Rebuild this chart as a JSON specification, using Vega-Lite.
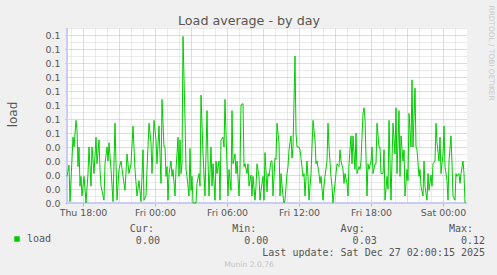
{
  "$schema": "https://vega.github.io/schema/vega-lite/v6.json",
  "width": 400,
  "height": 175,
  "autosize": {"type": "none"},
  "padding": {"left": 67, "top": 28, "right": 30, "bottom": 72},
  "background": "#f0f0f0",
  "config": {
    "view": {"fill": "#ffffff", "stroke": null},
    "font": "DejaVu Sans"
  },
  "data": {
    "values": [
      {"t": "2025-12-25T16:40", "v": 0.019},
      {"t": "2025-12-25T16:50", "v": 0.027},
      {"t": "2025-12-25T16:55", "v": 0.001},
      {"t": "2025-12-25T17:10", "v": 0.047},
      {"t": "2025-12-25T17:15", "v": 0.040},
      {"t": "2025-12-25T17:25", "v": 0.059},
      {"t": "2025-12-25T17:30", "v": 0.052},
      {"t": "2025-12-25T17:35", "v": 0.026},
      {"t": "2025-12-25T17:40", "v": 0.040},
      {"t": "2025-12-25T17:45", "v": 0.012},
      {"t": "2025-12-25T17:50", "v": 0.019},
      {"t": "2025-12-25T17:55", "v": 0.005},
      {"t": "2025-12-25T18:05", "v": 0.019},
      {"t": "2025-12-25T18:10", "v": 0.010},
      {"t": "2025-12-25T18:15", "v": 0.000},
      {"t": "2025-12-25T18:25", "v": 0.021},
      {"t": "2025-12-25T18:30", "v": 0.040},
      {"t": "2025-12-25T18:40", "v": 0.012},
      {"t": "2025-12-25T18:45", "v": 0.040},
      {"t": "2025-12-25T18:55", "v": 0.021},
      {"t": "2025-12-25T19:05", "v": 0.047},
      {"t": "2025-12-25T19:10", "v": 0.028},
      {"t": "2025-12-25T19:20", "v": 0.045},
      {"t": "2025-12-25T19:25", "v": 0.024},
      {"t": "2025-12-25T19:30", "v": 0.012},
      {"t": "2025-12-25T19:45", "v": 0.002},
      {"t": "2025-12-25T19:50", "v": 0.028},
      {"t": "2025-12-25T20:00", "v": 0.040},
      {"t": "2025-12-25T20:05", "v": 0.030},
      {"t": "2025-12-25T20:10", "v": 0.043},
      {"t": "2025-12-25T20:20", "v": 0.024},
      {"t": "2025-12-25T20:30", "v": 0.001},
      {"t": "2025-12-25T20:40", "v": 0.057},
      {"t": "2025-12-25T20:45", "v": 0.028},
      {"t": "2025-12-25T20:50", "v": 0.002},
      {"t": "2025-12-25T21:00", "v": 0.024},
      {"t": "2025-12-25T21:10", "v": 0.030},
      {"t": "2025-12-25T21:20", "v": 0.019},
      {"t": "2025-12-25T21:30", "v": 0.009},
      {"t": "2025-12-25T21:40", "v": 0.035},
      {"t": "2025-12-25T21:50", "v": 0.021},
      {"t": "2025-12-25T22:00", "v": 0.028},
      {"t": "2025-12-25T22:10", "v": 0.055},
      {"t": "2025-12-25T22:20", "v": 0.024},
      {"t": "2025-12-25T22:30", "v": 0.005},
      {"t": "2025-12-25T22:40", "v": 0.016},
      {"t": "2025-12-25T22:50", "v": 0.001},
      {"t": "2025-12-25T23:00", "v": 0.038},
      {"t": "2025-12-25T23:05", "v": 0.002},
      {"t": "2025-12-25T23:15", "v": 0.005},
      {"t": "2025-12-25T23:20", "v": 0.024},
      {"t": "2025-12-25T23:30", "v": 0.057},
      {"t": "2025-12-25T23:40", "v": 0.043},
      {"t": "2025-12-25T23:45", "v": 0.021},
      {"t": "2025-12-25T23:55", "v": 0.059},
      {"t": "2025-12-26T00:05", "v": 0.045},
      {"t": "2025-12-26T00:10", "v": 0.028},
      {"t": "2025-12-26T00:20", "v": 0.055},
      {"t": "2025-12-26T00:30", "v": 0.014},
      {"t": "2025-12-26T00:35", "v": 0.074},
      {"t": "2025-12-26T00:45", "v": 0.040},
      {"t": "2025-12-26T00:50", "v": 0.040},
      {"t": "2025-12-26T00:55", "v": 0.019},
      {"t": "2025-12-26T01:00", "v": 0.026},
      {"t": "2025-12-26T01:05", "v": 0.002},
      {"t": "2025-12-26T01:10", "v": 0.021},
      {"t": "2025-12-26T01:20", "v": 0.030},
      {"t": "2025-12-26T01:25", "v": 0.019},
      {"t": "2025-12-26T01:30", "v": 0.024},
      {"t": "2025-12-26T01:40", "v": 0.005},
      {"t": "2025-12-26T01:45", "v": 0.024},
      {"t": "2025-12-26T01:50", "v": 0.035},
      {"t": "2025-12-26T01:55", "v": 0.047},
      {"t": "2025-12-26T02:00", "v": 0.019},
      {"t": "2025-12-26T02:05", "v": 0.045},
      {"t": "2025-12-26T02:10", "v": 0.021},
      {"t": "2025-12-26T02:15", "v": 0.028},
      {"t": "2025-12-26T02:20", "v": 0.119},
      {"t": "2025-12-26T02:30", "v": 0.060},
      {"t": "2025-12-26T02:35", "v": 0.024},
      {"t": "2025-12-26T02:40", "v": 0.019},
      {"t": "2025-12-26T02:50", "v": 0.005},
      {"t": "2025-12-26T02:55", "v": 0.039},
      {"t": "2025-12-26T03:00", "v": 0.009},
      {"t": "2025-12-26T03:05", "v": 0.019},
      {"t": "2025-12-26T03:10", "v": 0.000},
      {"t": "2025-12-26T03:20", "v": 0.000},
      {"t": "2025-12-26T03:25", "v": 0.000},
      {"t": "2025-12-26T03:30", "v": 0.014},
      {"t": "2025-12-26T03:40", "v": 0.021},
      {"t": "2025-12-26T03:45", "v": 0.012},
      {"t": "2025-12-26T03:50", "v": 0.077},
      {"t": "2025-12-26T04:00", "v": 0.035},
      {"t": "2025-12-26T04:05", "v": 0.021},
      {"t": "2025-12-26T04:10", "v": 0.005},
      {"t": "2025-12-26T04:20", "v": 0.066},
      {"t": "2025-12-26T04:25", "v": 0.030},
      {"t": "2025-12-26T04:30", "v": 0.005},
      {"t": "2025-12-26T04:40", "v": 0.040},
      {"t": "2025-12-26T04:45", "v": 0.012},
      {"t": "2025-12-26T04:50", "v": 0.028},
      {"t": "2025-12-26T05:00", "v": 0.002},
      {"t": "2025-12-26T05:05", "v": 0.030},
      {"t": "2025-12-26T05:10", "v": 0.021},
      {"t": "2025-12-26T05:20", "v": 0.030},
      {"t": "2025-12-26T05:25", "v": 0.002},
      {"t": "2025-12-26T05:30", "v": 0.045},
      {"t": "2025-12-26T05:40", "v": 0.047},
      {"t": "2025-12-26T05:45", "v": 0.040},
      {"t": "2025-12-26T05:50", "v": 0.074},
      {"t": "2025-12-26T06:00", "v": 0.026},
      {"t": "2025-12-26T06:05", "v": 0.005},
      {"t": "2025-12-26T06:10", "v": 0.024},
      {"t": "2025-12-26T06:20", "v": 0.009},
      {"t": "2025-12-26T06:25", "v": 0.066},
      {"t": "2025-12-26T06:30", "v": 0.028},
      {"t": "2025-12-26T06:40", "v": 0.035},
      {"t": "2025-12-26T06:45", "v": 0.021},
      {"t": "2025-12-26T06:50", "v": 0.030},
      {"t": "2025-12-26T07:00", "v": 0.005},
      {"t": "2025-12-26T07:05", "v": 0.024},
      {"t": "2025-12-26T07:10", "v": 0.070},
      {"t": "2025-12-26T07:20", "v": 0.071},
      {"t": "2025-12-26T07:25", "v": 0.026},
      {"t": "2025-12-26T07:30", "v": 0.028},
      {"t": "2025-12-26T07:40", "v": 0.021},
      {"t": "2025-12-26T07:45", "v": 0.028},
      {"t": "2025-12-26T07:50", "v": 0.012},
      {"t": "2025-12-26T08:00", "v": 0.020},
      {"t": "2025-12-26T08:05", "v": 0.005},
      {"t": "2025-12-26T08:10", "v": 0.019},
      {"t": "2025-12-26T08:20", "v": 0.002},
      {"t": "2025-12-26T08:25", "v": 0.012},
      {"t": "2025-12-26T08:30", "v": 0.028},
      {"t": "2025-12-26T08:40", "v": 0.019},
      {"t": "2025-12-26T08:45", "v": 0.002},
      {"t": "2025-12-26T08:50", "v": 0.009},
      {"t": "2025-12-26T09:00", "v": 0.019},
      {"t": "2025-12-26T09:05", "v": 0.002},
      {"t": "2025-12-26T09:10", "v": 0.036},
      {"t": "2025-12-26T09:20", "v": 0.008},
      {"t": "2025-12-26T09:25", "v": 0.021},
      {"t": "2025-12-26T09:30", "v": 0.019},
      {"t": "2025-12-26T09:40", "v": 0.030},
      {"t": "2025-12-26T09:45", "v": 0.030},
      {"t": "2025-12-26T09:50", "v": 0.005},
      {"t": "2025-12-26T10:00", "v": 0.032},
      {"t": "2025-12-26T10:05", "v": 0.031},
      {"t": "2025-12-26T10:10", "v": 0.057},
      {"t": "2025-12-26T10:20", "v": 0.043},
      {"t": "2025-12-26T10:25", "v": 0.005},
      {"t": "2025-12-26T10:30", "v": 0.021},
      {"t": "2025-12-26T10:40", "v": 0.005},
      {"t": "2025-12-26T10:45", "v": 0.000},
      {"t": "2025-12-26T10:50", "v": 0.002},
      {"t": "2025-12-26T11:00", "v": 0.021},
      {"t": "2025-12-26T11:05", "v": 0.026},
      {"t": "2025-12-26T11:10", "v": 0.038},
      {"t": "2025-12-26T11:20", "v": 0.048},
      {"t": "2025-12-26T11:25", "v": 0.032},
      {"t": "2025-12-26T11:30", "v": 0.040},
      {"t": "2025-12-26T11:40", "v": 0.105},
      {"t": "2025-12-26T11:45", "v": 0.050},
      {"t": "2025-12-26T11:50", "v": 0.040},
      {"t": "2025-12-26T12:00", "v": 0.040},
      {"t": "2025-12-26T12:05", "v": 0.038},
      {"t": "2025-12-26T12:10", "v": 0.032},
      {"t": "2025-12-26T12:20", "v": 0.019},
      {"t": "2025-12-26T12:25", "v": 0.021},
      {"t": "2025-12-26T12:30", "v": 0.005},
      {"t": "2025-12-26T12:40", "v": 0.030},
      {"t": "2025-12-26T12:45", "v": 0.019},
      {"t": "2025-12-26T12:50", "v": 0.002},
      {"t": "2025-12-26T13:00", "v": 0.021},
      {"t": "2025-12-26T13:05", "v": 0.040},
      {"t": "2025-12-26T13:10", "v": 0.059},
      {"t": "2025-12-26T13:20", "v": 0.045},
      {"t": "2025-12-26T13:25", "v": 0.028},
      {"t": "2025-12-26T13:30", "v": 0.030},
      {"t": "2025-12-26T13:40", "v": 0.021},
      {"t": "2025-12-26T13:45", "v": 0.014},
      {"t": "2025-12-26T13:50", "v": 0.019},
      {"t": "2025-12-26T14:00", "v": 0.002},
      {"t": "2025-12-26T14:05", "v": 0.012},
      {"t": "2025-12-26T14:10", "v": 0.019},
      {"t": "2025-12-26T14:20", "v": 0.030},
      {"t": "2025-12-26T14:25", "v": 0.057},
      {"t": "2025-12-26T14:30", "v": 0.040},
      {"t": "2025-12-26T14:40", "v": 0.019},
      {"t": "2025-12-26T14:45", "v": 0.012},
      {"t": "2025-12-26T14:50", "v": 0.000},
      {"t": "2025-12-26T15:00", "v": 0.014},
      {"t": "2025-12-26T15:05", "v": 0.021},
      {"t": "2025-12-26T15:10", "v": 0.028},
      {"t": "2025-12-26T15:20", "v": 0.026},
      {"t": "2025-12-26T15:25", "v": 0.038},
      {"t": "2025-12-26T15:30", "v": 0.030},
      {"t": "2025-12-26T15:40", "v": 0.024},
      {"t": "2025-12-26T15:45", "v": 0.014},
      {"t": "2025-12-26T15:50", "v": 0.021},
      {"t": "2025-12-26T16:00", "v": 0.014},
      {"t": "2025-12-26T16:05", "v": 0.005},
      {"t": "2025-12-26T16:10", "v": 0.028},
      {"t": "2025-12-26T16:20", "v": 0.048},
      {"t": "2025-12-26T16:25", "v": 0.028},
      {"t": "2025-12-26T16:30", "v": 0.048},
      {"t": "2025-12-26T16:40", "v": 0.024},
      {"t": "2025-12-26T16:45", "v": 0.050},
      {"t": "2025-12-26T16:50", "v": 0.021},
      {"t": "2025-12-26T17:00", "v": 0.026},
      {"t": "2025-12-26T17:05", "v": 0.024},
      {"t": "2025-12-26T17:10", "v": 0.030},
      {"t": "2025-12-26T17:20", "v": 0.064},
      {"t": "2025-12-26T17:25", "v": 0.068},
      {"t": "2025-12-26T17:30", "v": 0.060},
      {"t": "2025-12-26T17:40", "v": 0.005},
      {"t": "2025-12-26T17:45", "v": 0.028},
      {"t": "2025-12-26T17:50", "v": 0.024},
      {"t": "2025-12-26T18:00", "v": 0.030},
      {"t": "2025-12-26T18:05", "v": 0.040},
      {"t": "2025-12-26T18:10", "v": 0.021},
      {"t": "2025-12-26T18:20", "v": 0.028},
      {"t": "2025-12-26T18:25", "v": 0.028},
      {"t": "2025-12-26T18:30", "v": 0.057},
      {"t": "2025-12-26T18:40", "v": 0.040},
      {"t": "2025-12-26T18:45", "v": 0.040},
      {"t": "2025-12-26T18:50", "v": 0.021},
      {"t": "2025-12-26T19:00", "v": 0.021},
      {"t": "2025-12-26T19:05", "v": 0.038},
      {"t": "2025-12-26T19:10", "v": 0.002},
      {"t": "2025-12-26T19:20", "v": 0.019},
      {"t": "2025-12-26T19:25", "v": 0.010},
      {"t": "2025-12-26T19:30", "v": 0.059},
      {"t": "2025-12-26T19:40", "v": 0.002},
      {"t": "2025-12-26T19:45", "v": 0.030},
      {"t": "2025-12-26T19:50", "v": 0.057},
      {"t": "2025-12-26T20:00", "v": 0.035},
      {"t": "2025-12-26T20:05", "v": 0.068},
      {"t": "2025-12-26T20:10", "v": 0.021},
      {"t": "2025-12-26T20:20", "v": 0.066},
      {"t": "2025-12-26T20:25", "v": 0.019},
      {"t": "2025-12-26T20:30", "v": 0.048},
      {"t": "2025-12-26T20:40", "v": 0.030},
      {"t": "2025-12-26T20:45", "v": 0.038},
      {"t": "2025-12-26T20:50", "v": 0.005},
      {"t": "2025-12-26T21:00", "v": 0.024},
      {"t": "2025-12-26T21:05", "v": 0.016},
      {"t": "2025-12-26T21:10", "v": 0.064},
      {"t": "2025-12-26T21:20", "v": 0.040},
      {"t": "2025-12-26T21:25", "v": 0.088},
      {"t": "2025-12-26T21:30", "v": 0.040},
      {"t": "2025-12-26T21:40", "v": 0.082},
      {"t": "2025-12-26T21:45", "v": 0.040},
      {"t": "2025-12-26T21:50", "v": 0.038},
      {"t": "2025-12-26T22:00", "v": 0.019},
      {"t": "2025-12-26T22:05", "v": 0.024},
      {"t": "2025-12-26T22:10", "v": 0.012},
      {"t": "2025-12-26T22:20", "v": 0.005},
      {"t": "2025-12-26T22:25", "v": 0.030},
      {"t": "2025-12-26T22:30", "v": 0.012},
      {"t": "2025-12-26T22:40", "v": 0.002},
      {"t": "2025-12-26T22:45", "v": 0.021},
      {"t": "2025-12-26T22:50", "v": 0.009},
      {"t": "2025-12-26T23:00", "v": 0.020},
      {"t": "2025-12-26T23:05", "v": 0.012},
      {"t": "2025-12-26T23:10", "v": 0.028},
      {"t": "2025-12-26T23:20", "v": 0.030},
      {"t": "2025-12-26T23:25", "v": 0.057},
      {"t": "2025-12-26T23:30", "v": 0.043},
      {"t": "2025-12-26T23:40", "v": 0.030},
      {"t": "2025-12-26T23:45", "v": 0.047},
      {"t": "2025-12-26T23:50", "v": 0.021},
      {"t": "2025-12-27T00:00", "v": 0.035},
      {"t": "2025-12-27T00:05", "v": 0.055},
      {"t": "2025-12-27T00:10", "v": 0.026},
      {"t": "2025-12-27T00:20", "v": 0.016},
      {"t": "2025-12-27T00:25", "v": 0.002},
      {"t": "2025-12-27T00:30", "v": 0.030},
      {"t": "2025-12-27T00:40", "v": 0.048},
      {"t": "2025-12-27T00:45", "v": 0.028},
      {"t": "2025-12-27T00:50", "v": 0.005},
      {"t": "2025-12-27T01:00", "v": 0.002},
      {"t": "2025-12-27T01:05", "v": 0.021},
      {"t": "2025-12-27T01:10", "v": 0.019},
      {"t": "2025-12-27T01:20", "v": 0.021},
      {"t": "2025-12-27T01:25", "v": 0.014},
      {"t": "2025-12-27T01:30", "v": 0.021},
      {"t": "2025-12-27T01:40", "v": 0.030},
      {"t": "2025-12-27T01:45", "v": 0.021},
      {"t": "2025-12-27T01:50", "v": 0.000}
    ]
  },
  "resolve": {"axis": {"x": "independent", "y": "independent"}},
  "layer": [
    {
      "mark": {"type": "rule", "color": "#c9cdf5", "strokeWidth": 1},
      "encoding": {
        "x": {
          "datum": {"year": 2025, "month": 12, "date": 25, "hours": 16, "minutes": 40},
          "type": "temporal",
          "axis": {
            "orient": "top",
            "values": [
              {"year": 2025, "month": 12, "date": 25, "hours": 21},
              {"year": 2025, "month": 12, "date": 26, "hours": 3},
              {"year": 2025, "month": 12, "date": 26, "hours": 9},
              {"year": 2025, "month": 12, "date": 26, "hours": 15},
              {"year": 2025, "month": 12, "date": 26, "hours": 21}
            ],
            "labels": false,
            "ticks": false,
            "domain": false,
            "grid": true,
            "gridColor": "#e6a6a6",
            "gridDash": [1, 1],
            "title": "Load average - by day",
            "titleFont": "DejaVu Sans",
            "titleFontSize": 12.7,
            "titleFontWeight": "normal",
            "titleColor": "#555555",
            "titleX": 181.5,
            "titleY": -4,
            "titleAlign": "center",
            "titleBaseline": "alphabetic"
          }
        },
        "x2": {"datum": {"year": 2025, "month": 12, "date": 27, "hours": 2, "minutes": 0}},
        "y": {
          "datum": 0,
          "type": "quantitative",
          "axis": {
            "orient": "left",
            "values": [0.005, 0.015, 0.025, 0.035, 0.045, 0.055, 0.065, 0.075, 0.085, 0.095, 0.105, 0.115, 0.125],
            "labels": false,
            "ticks": false,
            "domain": false,
            "grid": true,
            "gridColor": "#d6d6d6",
            "gridDash": [1, 1],
            "title": null
          }
        }
      }
    },
    {
      "mark": {"type": "rule", "color": "#c9cdf5", "strokeWidth": 1},
      "encoding": {
        "x": {
          "datum": {"year": 2025, "month": 12, "date": 25, "hours": 16, "minutes": 40},
          "type": "temporal",
          "axis": {
            "orient": "bottom",
            "values": [
              {"year": 2025, "month": 12, "date": 25, "hours": 17},
              {"year": 2025, "month": 12, "date": 25, "hours": 19},
              {"year": 2025, "month": 12, "date": 25, "hours": 20},
              {"year": 2025, "month": 12, "date": 25, "hours": 22},
              {"year": 2025, "month": 12, "date": 25, "hours": 23},
              {"year": 2025, "month": 12, "date": 26, "hours": 1},
              {"year": 2025, "month": 12, "date": 26, "hours": 2},
              {"year": 2025, "month": 12, "date": 26, "hours": 4},
              {"year": 2025, "month": 12, "date": 26, "hours": 5},
              {"year": 2025, "month": 12, "date": 26, "hours": 7},
              {"year": 2025, "month": 12, "date": 26, "hours": 8},
              {"year": 2025, "month": 12, "date": 26, "hours": 10},
              {"year": 2025, "month": 12, "date": 26, "hours": 11},
              {"year": 2025, "month": 12, "date": 26, "hours": 13},
              {"year": 2025, "month": 12, "date": 26, "hours": 14},
              {"year": 2025, "month": 12, "date": 26, "hours": 16},
              {"year": 2025, "month": 12, "date": 26, "hours": 17},
              {"year": 2025, "month": 12, "date": 26, "hours": 19},
              {"year": 2025, "month": 12, "date": 26, "hours": 20},
              {"year": 2025, "month": 12, "date": 26, "hours": 22},
              {"year": 2025, "month": 12, "date": 26, "hours": 23},
              {"year": 2025, "month": 12, "date": 27, "hours": 1}
            ],
            "labels": false,
            "ticks": false,
            "domain": false,
            "grid": true,
            "gridColor": "#d6d6d6",
            "gridDash": [1, 1],
            "title": "Munin 2.0.76",
            "titleFont": "DejaVu Sans",
            "titleFontSize": 7.6,
            "titleFontWeight": "normal",
            "titleColor": "#c4c4c4",
            "titleX": 181.5,
            "titleY": 63,
            "titleAlign": "center",
            "titleBaseline": "alphabetic"
          }
        },
        "y": {
          "datum": 0,
          "type": "quantitative",
          "axis": {
            "orient": "right",
            "labels": false,
            "ticks": false,
            "domain": false,
            "grid": false,
            "title": "RRDTOOL / TOBI OETIKER",
            "titleFont": "DejaVu Sans",
            "titleFontSize": 7.4,
            "titleFontWeight": "normal",
            "titleColor": "#c8c8c8",
            "titleAngle": 90,
            "titleX": 23,
            "titleY": -23,
            "titleAlign": "left",
            "titleBaseline": "middle"
          }
        },
        "y2": {"datum": 0.125}
      }
    },
    {
      "mark": {"type": "line", "strokeWidth": 1, "color": "#00cc00"},
      "encoding": {
        "x": {
          "field": "t",
          "type": "temporal",
          "scale": {
            "domain": [
              {"year": 2025, "month": 12, "date": 25, "hours": 16, "minutes": 40},
              {"year": 2025, "month": 12, "date": 27, "hours": 2, "minutes": 0}
            ]
          },
          "axis": {
            "orient": "bottom",
            "values": [
              {"year": 2025, "month": 12, "date": 25, "hours": 18},
              {"year": 2025, "month": 12, "date": 26, "hours": 0},
              {"year": 2025, "month": 12, "date": 26, "hours": 6},
              {"year": 2025, "month": 12, "date": 26, "hours": 12},
              {"year": 2025, "month": 12, "date": 26, "hours": 18},
              {"year": 2025, "month": 12, "date": 27, "hours": 0}
            ],
            "format": "%a %H:%M",
            "labelOverlap": false,
            "labelFlush": false,
            "labelFontSize": 9.4,
            "labelColor": "#555555",
            "labelPadding": 2,
            "tickSize": 3,
            "tickColor": "#e0a0a0",
            "domainColor": "#c9cdf5",
            "grid": true,
            "gridColor": "#e6a6a6",
            "gridDash": [1, 1],
            "title": [
              "\u200b\u00a0\u00a0\u00a0\u00a0\u00a0\u00a0\u00a0\u00a0\u00a0\u00a0\u00a0\u00a0\u00a0\u00a0\u00a0\u00a0\u00a0Cur:\u00a0\u00a0\u00a0\u00a0\u00a0\u00a0\u00a0\u00a0\u00a0\u00a0\u00a0\u00a0\u00a0Min:\u00a0\u00a0\u00a0\u00a0\u00a0\u00a0\u00a0\u00a0\u00a0\u00a0\u00a0\u00a0\u00a0\u00a0Avg:\u00a0\u00a0\u00a0\u00a0\u00a0\u00a0\u00a0\u00a0\u00a0\u00a0\u00a0\u00a0\u00a0\u00a0Max:",
              "\u200b\u00a0\u00a0\u00a0\u00a0\u00a0\u00a0\u00a0\u00a0\u00a0\u00a0\u00a0\u00a0\u00a0\u00a0\u00a0\u00a0\u00a0\u00a00.00\u00a0\u00a0\u00a0\u00a0\u00a0\u00a0\u00a0\u00a0\u00a0\u00a0\u00a0\u00a0\u00a0\u00a00.00\u00a0\u00a0\u00a0\u00a0\u00a0\u00a0\u00a0\u00a0\u00a0\u00a0\u00a0\u00a0\u00a0\u00a00.03\u00a0\u00a0\u00a0\u00a0\u00a0\u00a0\u00a0\u00a0\u00a0\u00a0\u00a0\u00a0\u00a0\u00a00.12",
              "\u200b\u00a0\u00a0\u00a0\u00a0\u00a0\u00a0\u00a0\u00a0\u00a0\u00a0\u00a0\u00a0\u00a0\u00a0\u00a0\u00a0\u00a0\u00a0\u00a0\u00a0\u00a0\u00a0\u00a0\u00a0\u00a0\u00a0\u00a0\u00a0\u00a0\u00a0\u00a0\u00a0\u00a0\u00a0\u00a0\u00a0\u00a0\u00a0\u00a0Last update: Sat Dec 27 02:00:15 2025"
            ],
            "titleFont": "DejaVu Sans Mono",
            "titleFontSize": 10,
            "titleFontWeight": "normal",
            "titleColor": "#555555",
            "titleX": -40,
            "titleY": 28.3,
            "titleAlign": "left",
            "titleAnchor": "start",
            "titleBaseline": "alphabetic",
            "titleLineHeight": 12
          }
        },
        "y": {
          "field": "v",
          "type": "quantitative",
          "scale": {"domain": [0, 0.125], "nice": false},
          "axis": {
            "orient": "left",
            "values": [0, 0.01, 0.02, 0.03, 0.04, 0.05, 0.06, 0.07, 0.08, 0.09, 0.1, 0.11, 0.12],
            "format": ".1f",
            "labelOverlap": false,
            "labelFontSize": 9.4,
            "labelColor": "#555555",
            "labelPadding": 5,
            "tickSize": 2,
            "tickColor": "#e0a0a0",
            "domainColor": "#c9cdf5",
            "grid": true,
            "gridColor": "#e6a6a6",
            "gridDash": [1, 1],
            "title": "load",
            "titleFontSize": 12,
            "titleFontWeight": "normal",
            "titleColor": "#555555",
            "titleX": -51,
            "titleY": 86,
            "titleAlign": "center",
            "titleBaseline": "alphabetic"
          }
        },
        "color": {
          "datum": "load",
          "scale": {"range": ["#00cc00"]},
          "legend": {
            "orient": "none",
            "legendX": -55,
            "legendY": 206,
            "title": null,
            "padding": 0,
            "symbolType": "square",
            "symbolSize": 30,
            "symbolFillColor": "#00cc00",
            "symbolStrokeColor": "#00cc00",
            "symbolStrokeWidth": 0,
            "labelFont": "DejaVu Sans Mono",
            "labelFontSize": 10,
            "labelColor": "#555555",
            "labelOffset": 5
          }
        }
      }
    }
  ]
}
